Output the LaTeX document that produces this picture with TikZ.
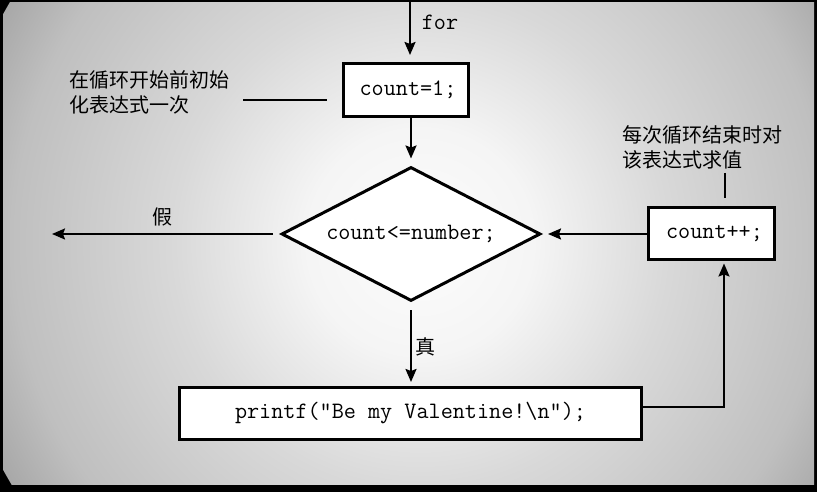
\documentclass[tikz,border=0pt]{standalone}
\usepackage{fontspec}
\newfontfamily\cjk{Noto Sans CJK SC}
\usetikzlibrary{shapes.geometric,arrows.meta}
\pgfdeclareradialshading{bgshade}{\pgfpoint{0bp}{0bp}}{color(0bp)=(gray!2); color(6bp)=(gray!8); color(13bp)=(gray!30); color(21.5bp)=(gray!50); color(25bp)=(gray!68); color(50bp)=(gray!68)}
\tikzset{
  codefont/.style={font=\ttfamily\fontsize{23.5}{28}\selectfont},
  codebox/.style={draw=black, line width=3pt, fill=white, inner sep=0pt, codefont},
  arr/.style={line width=2pt, -{Stealth[length=13pt,width=11pt,inset=2pt]}},
  noteline/.style={line width=1.4pt},
  cjktext/.style={font=\cjk\fontsize{20}{25}\selectfont, inner sep=0pt, align=left},
  labeltext/.style={font=\cjk\fontsize{20}{24}\selectfont, inner sep=0pt},
}
\begin{document}
\begin{tikzpicture}[x=1pt,y=1pt]
\useasboundingbox (0,0) rectangle (817,492);
% background and frame
\fill[black] (0,0) rectangle (817,492);
\begin{scope}
\clip (3,7) rectangle (814,489);
\shade[shading=bgshade] (420,250) circle (475);
\end{scope}
% nodes
\node[codebox, minimum width=125pt, minimum height=53pt] (init) at (406,402) {\hspace*{4pt}count=1;};
\node[codebox, shape=diamond, aspect=1.93, minimum width=259pt, minimum height=134pt] (dia) at (411,258) {count<=number;};
\node[codebox, minimum width=126pt, minimum height=52pt] (inc) at (711.5,258) {\hspace*{6pt}count++;};
\node[codebox, minimum width=462pt, minimum height=52pt] (prt) at (410.5,78.5) {printf("Be my Valentine!\textbackslash n");};
% texts
\node[codefont, inner sep=0pt] (forlbl) at (440,470) {for};
\node[cjktext, anchor=west] (note1) at (69,399.5) {在循环开始前初始\\化表达式一次};
\node[cjktext, anchor=west] (note2) at (622,344.5) {每次循环结束时对\\该表达式求值};
\node[labeltext] (falselbl) at (162,275) {假};
\node[labeltext] (truelbl) at (425,145) {真};
% coordinates
\coordinate (forTop) at (410,492);
\coordinate (falseEnd) at (52,258);
\coordinate (n1) at (243,392);
\coordinate (n2) at (725,319);
\coordinate (ret) at (724,85);
% connectors
\draw[arr, shorten >=7pt] (forTop) -- (forTop |- init.north);
\draw[arr, shorten >=7pt] (init.south -| dia.north) -- (dia.north);
\draw[arr, shorten <=7pt] (dia.west) -- (falseEnd);
\draw[arr, shorten >=6pt] (inc.west) -- (dia.east);
\draw[arr, shorten <=8pt, shorten >=4pt] (dia.south) -- (dia.south |- prt.north);
\draw[line width=1.7pt, -{Stealth[length=13pt,width=11pt,inset=2pt]}, shorten >=2pt] (ret -| prt.east) -- (ret) -- (ret |- inc.south);
\draw[noteline, shorten >=15pt] (n1) -- (n1 -| init.west);
\draw[noteline, shorten >=8pt] (n2) -- (n2 |- inc.north);
\end{tikzpicture}
\end{document}
